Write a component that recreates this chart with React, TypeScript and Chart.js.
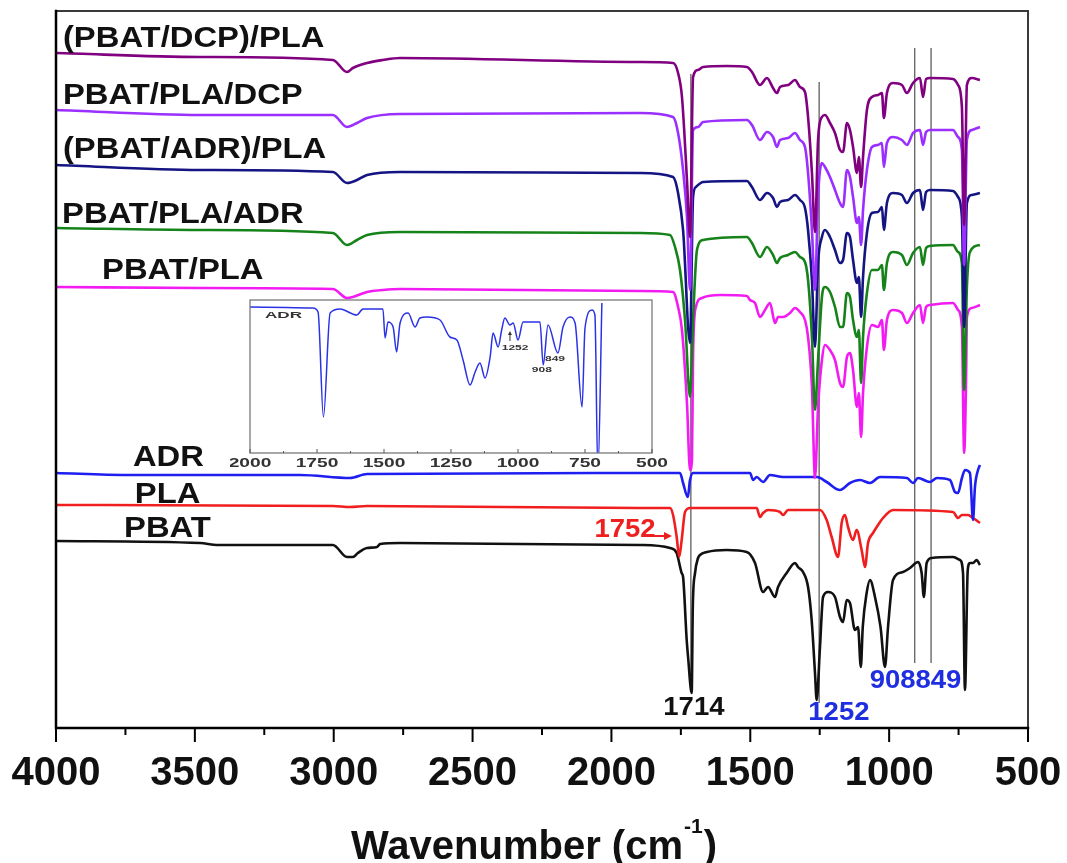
import React, { useEffect, useRef } from "react";
import { Chart, registerables } from "chart.js";

Chart.register(...registerables);

type P = [number, number];

// ---------- Data (wavenumber cm-1, stacked transmittance in arbitrary units) ----------
const PBAT: P[] = [[4000,187],[3481,185],[3420,183],[3003,183],[2952,171],[2931,171],[2913,175],[2880,180],[2844,181],[2833,184],[2761,185],[1897,183],[1789,180],[1765,175],[1760,170],[1747,155],[1742,151],[1729,88],[1724,71],[1711,35],[1707,121],[1699,155],[1688,170],[1681,173],[1656,176],[1585,178],[1513,176],[1483,165],[1454,136],[1436,141],[1411,131],[1400,141],[1369,155],[1339,165],[1328,161],[1310,156],[1292,141],[1279,108],[1267,55],[1261,28],[1249,81],[1238,131],[1220,136],[1195,131],[1177,111],[1166,106],[1153,128],[1141,125],[1123,98],[1112,101],[1102,61],[1095,101],[1081,135],[1069,148],[1051,131],[1031,101],[1015,61],[1004,101],[986,148],[950,156],[925,160],[896,166],[883,155],[875,131],[865,165],[847,170],[770,171],[745,168],[734,155],[727,38],[717,158],[709,165],[698,165],[685,168],[673,163]];

const PLA: P[] = [[4000,223],[3003,222],[2941,221],[2880,222],[1897,220],[1789,220],[1778,213],[1765,191],[1756,171],[1747,188],[1735,216],[1717,220],[1477,220],[1465,211],[1454,215],[1436,218],[1393,216],[1382,213],[1364,218],[1249,218],[1225,208],[1207,191],[1184,171],[1171,205],[1159,213],[1148,201],[1130,188],[1117,198],[1099,178],[1087,161],[1076,185],[1058,195],[1040,203],[1022,210],[986,218],[770,216],[752,210],[738,213],[716,213],[698,210],[673,205]];

const ADR: P[] = [[4000,255],[3744,253],[3121,253],[2941,250],[2880,254],[1897,255],[1753,255],[1742,245],[1725,231],[1717,248],[1706,255],[1501,255],[1490,248],[1477,251],[1454,246],[1429,253],[1382,251],[1260,251],[1225,246],[1177,238],[1141,245],[1105,248],[1069,245],[1033,251],[936,250],[914,245],[896,250],[853,246],[828,250],[781,248],[763,236],[752,235],[738,250],[727,258],[709,255],[698,208],[691,241],[680,258],[673,263]];

const PBAT_PLA: P[] = [[4000,441],[3481,440],[3003,439],[2952,430],[2931,431],[2880,436],[2823,438],[2761,439],[1897,437],[1778,436],[1760,421],[1746,398],[1728,325],[1717,258],[1710,268],[1706,375],[1696,421],[1674,430],[1609,433],[1512,432],[1501,428],[1483,425],[1465,411],[1447,418],[1429,425],[1411,405],[1400,411],[1382,411],[1357,415],[1339,420],[1321,416],[1303,408],[1292,391],[1278,341],[1267,250],[1256,321],[1242,368],[1231,383],[1213,378],[1195,368],[1177,345],[1166,341],[1152,371],[1141,375],[1130,358],[1116,321],[1109,335],[1101,291],[1094,335],[1080,381],[1062,403],[1040,401],[1026,408],[1019,378],[1008,408],[986,418],[954,415],[936,405],[914,415],[889,423],[878,405],[867,421],[853,423],[770,425],[752,418],[738,401],[730,275],[723,348],[720,411],[702,420],[673,423]];

const PBAT_PLA_ADR: P[] = [[4000,500],[3481,498],[3003,495],[2952,483],[2916,488],[2880,493],[2761,496],[1897,495],[1789,493],[1771,481],[1753,458],[1735,408],[1717,331],[1706,408],[1692,478],[1670,488],[1512,491],[1494,485],[1465,471],[1440,481],[1418,473],[1404,465],[1393,470],[1364,473],[1339,476],[1321,471],[1303,466],[1292,448],[1278,391],[1267,318],[1256,368],[1242,431],[1231,441],[1213,436],[1195,421],[1177,401],[1166,401],[1152,435],[1141,431],[1130,408],[1116,391],[1109,398],[1101,345],[1094,391],[1080,435],[1062,458],[1040,458],[1026,463],[1019,438],[1008,465],[986,476],[954,473],[936,463],[914,475],[889,481],[878,463],[867,480],[853,482],[770,483],[752,476],[738,465],[730,338],[720,441],[709,476],[673,483]];

const PBAT_ADR_THEN_PLA: P[] = [[4000,563],[3481,558],[3003,556],[2952,545],[2916,548],[2880,553],[2761,556],[1897,555],[1778,551],[1760,535],[1742,498],[1717,385],[1706,531],[1696,541],[1670,546],[1512,547],[1494,541],[1465,528],[1440,535],[1418,530],[1404,521],[1393,526],[1364,528],[1339,533],[1321,528],[1303,520],[1292,498],[1278,448],[1267,381],[1256,465],[1242,491],[1231,498],[1213,491],[1195,478],[1177,465],[1166,468],[1152,495],[1141,491],[1130,468],[1116,445],[1109,451],[1101,411],[1094,451],[1080,495],[1062,515],[1040,516],[1026,521],[1019,498],[1008,525],[986,535],[954,533],[936,525],[914,535],[889,538],[878,518],[867,536],[853,538],[770,537],[752,531],[738,511],[730,401],[720,525],[702,533],[673,535]];

const PBAT_PLA_DCP: P[] = [[4000,618],[3481,613],[3003,613],[2952,601],[2916,605],[2880,610],[2761,614],[1897,615],[1778,611],[1760,595],[1742,558],[1728,511],[1717,438],[1706,598],[1688,601],[1670,606],[1512,608],[1494,603],[1465,588],[1440,596],[1418,591],[1404,581],[1393,588],[1364,590],[1339,595],[1321,588],[1303,581],[1292,555],[1278,498],[1267,438],[1256,531],[1242,565],[1231,561],[1213,551],[1195,538],[1177,525],[1166,521],[1152,558],[1141,551],[1130,531],[1116,505],[1109,511],[1101,483],[1094,518],[1080,558],[1062,581],[1040,583],[1026,585],[1019,561],[1008,585],[986,591],[954,588],[936,583],[914,595],[889,598],[878,583],[867,596],[853,598],[770,598],[752,591],[738,578],[730,463],[720,588],[702,598],[673,601]];

const PBAT_DCP_THEN_PLA: P[] = [[4000,675],[3481,671],[3003,668],[2952,656],[2931,660],[2880,665],[2823,668],[2761,670],[1897,666],[1778,665],[1760,655],[1746,631],[1728,548],[1717,491],[1706,651],[1688,658],[1670,661],[1584,662],[1512,661],[1494,656],[1465,643],[1440,650],[1418,640],[1404,635],[1393,641],[1364,643],[1339,648],[1321,641],[1303,636],[1292,611],[1278,555],[1267,496],[1256,588],[1242,611],[1231,613],[1213,605],[1195,595],[1177,578],[1166,576],[1152,605],[1141,598],[1130,581],[1116,555],[1109,571],[1101,541],[1094,571],[1080,618],[1062,631],[1040,633],[1026,635],[1019,610],[1008,635],[986,645],[954,643],[936,635],[914,645],[889,650],[878,631],[867,649],[853,650],[770,649],[752,643],[738,621],[730,503],[720,643],[702,650],[673,648]];

// inset: neat ADR spectrum
const INSET_ADR: P[] = [[2000,146],[1765,145],[1746,141],[1726,36],[1701,140],[1664,144],[1602,138],[1578,144],[1504,144],[1496,115],[1485,131],[1466,126],[1453,101],[1440,130],[1410,140],[1384,126],[1366,135],[1340,136],[1291,133],[1254,116],[1228,113],[1205,93],[1179,68],[1160,81],[1142,90],[1123,75],[1104,96],[1093,120],[1074,106],[1061,123],[1049,135],[1030,128],[1018,130],[1000,113],[981,131],[918,131],[906,88],[888,128],[851,100],[832,126],[806,136],[787,130],[761,46],[750,125],[724,143],[713,138],[702,-20],[687,150]];

// reference lines (wavenumber, top value, bottom value)
const REF_WN = [1714, 1252, 908, 849];
const REF_TOP = [654, 646, 680, 680];
const REF_BOTTOM = [38, 25, 65, 65];

const X_MAJOR = [4000, 3500, 3000, 2500, 2000, 1500, 1000, 500];
const X_MINOR = [3750, 3250, 2750, 2250, 1750, 1250, 750];
const INSET_MAJOR = [2000, 1750, 1500, 1250, 1000, 750, 500];
const INSET_MINOR = [1875, 1625, 1375, 1125, 875, 625];

const SERIES_NAMES = ["(PBAT/DCP)/PLA", "PBAT/PLA/DCP", "(PBAT/ADR)/PLA", "PBAT/PLA/ADR", "PBAT/PLA", "ADR", "PLA", "PBAT"];
const SERIES_DATA = [PBAT_DCP_THEN_PLA, PBAT_PLA_DCP, PBAT_ADR_THEN_PLA, PBAT_PLA_ADR, PBAT_PLA, ADR, PLA, PBAT];
// label anchors in data units (wavenumber, value)
const LABEL_WN = [3975, 3975, 3975, 3978, 3834, 3723, 3716, 3755];
const LABEL_VAL = [681, 624, 570, 505, 449, 262, 225, 191];

const PEAK_TEXT = ["1714", "1252", "908849", "1752"];
const PEAK_WN = [1703, 1181, 905, 1951];
const PEAK_VAL = [13, 8, 40, 191];

// ---------- styles ----------
const COLORS = ["#800080", "#9a2fff", "#141482", "#16831a", "#f21cf2", "#1e1ef0", "#f01e1e", "#111111"];
const PEAK_COLORS = ["#111111", "#1f2fe0", "#1f2fe0", "#ee1f1f"];
const FONT = '"Liberation Sans", Arial, Helvetica, sans-serif';

function drawText(ctx: CanvasRenderingContext2D, text: string, x: number, y: number, size: number, color: string, sx = 1, align: "left" | "center" = "left") {
  ctx.save();
  ctx.font = `bold ${size}px ${FONT}`;
  ctx.fillStyle = color;
  ctx.textBaseline = "alphabetic";
  ctx.textAlign = "left";
  const w = ctx.measureText(text).width * sx;
  const left = align === "center" ? x - w / 2 : x;
  ctx.translate(left, y);
  ctx.scale(sx, 1);
  ctx.fillText(text, 0, 0);
  ctx.restore();
}

const mainDecor = {
  id: "mainDecor",
  afterDraw(chart: any) {
    const { ctx, chartArea: a, scales } = chart;
    const xs = scales.x;
    const ys = scales.y;
    ctx.save();
    // frame
    ctx.lineCap = "square";
    ctx.strokeStyle = "#3a3a3a";
    ctx.lineWidth = 2;
    ctx.beginPath();
    ctx.moveTo(a.left, a.top);
    ctx.lineTo(a.right, a.top);
    ctx.lineTo(a.right, a.bottom);
    ctx.stroke();
    ctx.strokeStyle = "#000";
    ctx.lineWidth = 2.5;
    ctx.beginPath();
    ctx.moveTo(a.left, a.top);
    ctx.lineTo(a.left, a.bottom);
    ctx.lineTo(a.right, a.bottom);
    ctx.stroke();
    // ticks
    ctx.lineWidth = 2;
    ctx.lineCap = "butt";
    X_MAJOR.forEach((v) => {
      const px = xs.getPixelForValue(v);
      ctx.beginPath();
      ctx.moveTo(px, a.bottom);
      ctx.lineTo(px, a.bottom + 14);
      ctx.stroke();
    });
    X_MINOR.forEach((v) => {
      const px = xs.getPixelForValue(v);
      ctx.beginPath();
      ctx.moveTo(px, a.bottom);
      ctx.lineTo(px, a.bottom + 7);
      ctx.stroke();
    });
    ctx.restore();
    X_MAJOR.forEach((v) => {
      drawText(ctx, String(v), xs.getPixelForValue(v), a.bottom + 57, 40, "#111", 1, "center");
    });
    // axis title with superscript
    const cx = (a.left + a.right) / 2 - 8;
    ctx.save();
    ctx.font = `bold 40px ${FONT}`;
    const mainTxt = "Wavenumber (cm";
    const w1 = ctx.measureText(mainTxt).width;
    const w3 = ctx.measureText(")").width;
    ctx.font = `bold 21px ${FONT}`;
    const w2 = ctx.measureText("-1").width;
    ctx.restore();
    const total = w1 + w2 + w3 + 2;
    const tx = cx - total / 2;
    const ty = a.bottom + 131;
    drawText(ctx, mainTxt, tx, ty, 40, "#111");
    drawText(ctx, "-1", tx + w1 + 1, ty - 26, 21, "#111");
    drawText(ctx, ")", tx + w1 + w2 + 2, ty, 40, "#111");
    // series labels
    SERIES_NAMES.forEach((name, i) => {
      drawText(ctx, name, xs.getPixelForValue(LABEL_WN[i]), ys.getPixelForValue(LABEL_VAL[i]), 29, "#111", 1.13);
    });
    // peak annotations
    PEAK_TEXT.forEach((t, i) => {
      drawText(ctx, t, xs.getPixelForValue(PEAK_WN[i]), ys.getPixelForValue(PEAK_VAL[i]), 25, PEAK_COLORS[i], 1.1, "center");
    });
    // arrow for 1752
    const ax0 = xs.getPixelForValue(1850);
    const ax1 = xs.getPixelForValue(1782);
    const ay = ys.getPixelForValue(192);
    ctx.save();
    ctx.strokeStyle = "#ee1f1f";
    ctx.fillStyle = "#ee1f1f";
    ctx.lineWidth = 2;
    ctx.beginPath();
    ctx.moveTo(ax0, ay);
    ctx.lineTo(ax1 - 6, ay);
    ctx.stroke();
    ctx.beginPath();
    ctx.moveTo(ax1, ay);
    ctx.lineTo(ax1 - 8, ay - 4);
    ctx.lineTo(ax1 - 8, ay + 4);
    ctx.closePath();
    ctx.fill();
    ctx.restore();
  },
};

const insetDecor = {
  id: "insetDecor",
  beforeDraw(chart: any) {
    const { ctx, chartArea: a } = chart;
    ctx.save();
    ctx.fillStyle = "#fff";
    ctx.fillRect(a.left, a.top, a.right - a.left, a.bottom - a.top);
    ctx.restore();
  },
  afterDraw(chart: any) {
    const { ctx, chartArea: a, scales } = chart;
    const xs = scales.x;
    const ys = scales.y;
    ctx.save();
    ctx.strokeStyle = "#7a7a7a";
    ctx.lineWidth = 1.3;
    ctx.strokeRect(a.left, a.top, a.right - a.left, a.bottom - a.top);
    ctx.strokeStyle = "#555";
    ctx.lineWidth = 1;
    INSET_MAJOR.forEach((v) => {
      const px = xs.getPixelForValue(v);
      ctx.beginPath();
      ctx.moveTo(px, a.bottom);
      ctx.lineTo(px, a.bottom - 4);
      ctx.stroke();
    });
    INSET_MINOR.forEach((v) => {
      const px = xs.getPixelForValue(v);
      ctx.beginPath();
      ctx.moveTo(px, a.bottom);
      ctx.lineTo(px, a.bottom - 2);
      ctx.stroke();
    });
    ctx.restore();
    INSET_MAJOR.forEach((v) => {
      drawText(ctx, String(v), xs.getPixelForValue(v), a.bottom + 14, 12, "#333", 1.6, "center");
    });
    drawText(ctx, "ADR", xs.getPixelForValue(1944), ys.getPixelForValue(135), 9.5, "#333", 1.8);
    drawText(ctx, "1252", xs.getPixelForValue(1011), ys.getPixelForValue(103), 7.5, "#333", 1.6, "center");
    drawText(ctx, "908", xs.getPixelForValue(911), ys.getPixelForValue(81), 7.5, "#333", 1.6, "center");
    drawText(ctx, "849", xs.getPixelForValue(862), ys.getPixelForValue(92), 7.5, "#333", 1.6, "center");
    const ax = xs.getPixelForValue(1030);
    ctx.save();
    ctx.strokeStyle = "#333";
    ctx.fillStyle = "#333";
    ctx.lineWidth = 1;
    ctx.beginPath();
    ctx.moveTo(ax, ys.getPixelForValue(112));
    ctx.lineTo(ax, ys.getPixelForValue(119));
    ctx.stroke();
    const tip = ys.getPixelForValue(122);
    ctx.beginPath();
    ctx.moveTo(ax, tip);
    ctx.lineTo(ax - 2, tip + 4);
    ctx.lineTo(ax + 2, tip + 4);
    ctx.closePath();
    ctx.fill();
    ctx.restore();
  },
};

const toXY = (arr: P[]) => arr.map(([x, y]) => ({ x, y }));

export default function App() {
  const mainRef = useRef<HTMLCanvasElement | null>(null);
  const insetRef = useRef<HTMLCanvasElement | null>(null);

  useEffect(() => {
    if (!mainRef.current || !insetRef.current) return;
    const datasets: any[] = SERIES_DATA.map((d, i) => ({
      label: SERIES_NAMES[i],
      data: toXY(d),
      borderColor: COLORS[i],
      backgroundColor: COLORS[i],
      borderWidth: 2.6,
      pointRadius: 0,
      cubicInterpolationMode: "monotone",
      borderJoinStyle: "round",
      fill: false,
    }));
    REF_WN.forEach((wn, i) => {
      datasets.push({
        label: `ref ${wn}`,
        data: [{ x: wn, y: REF_TOP[i] }, { x: wn, y: REF_BOTTOM[i] }],
        borderColor: "#6a6a6a",
        borderWidth: 1.4,
        pointRadius: 0,
        fill: false,
      });
    });
    const main = new Chart(mainRef.current, {
      type: "line",
      data: { datasets },
      options: {
        animation: false,
        responsive: false,
        maintainAspectRatio: false,
        devicePixelRatio: 1,
        layout: { padding: { left: 56, right: 39, top: 11, bottom: 135 } },
        plugins: { legend: { display: false }, tooltip: { enabled: false }, title: { display: false } },
        scales: {
          x: { type: "linear", reverse: true, min: 500, max: 4000, display: false },
          y: { type: "linear", min: 0, max: 717, display: false },
        },
      },
      plugins: [mainDecor],
    } as any);

    const inset = new Chart(insetRef.current, {
      type: "line",
      data: {
        datasets: [
          {
            label: "ADR",
            data: toXY(INSET_ADR),
            borderColor: "#2a32e6",
            borderWidth: 1.5,
            pointRadius: 0,
            cubicInterpolationMode: "monotone",
            fill: false,
          },
        ],
      },
      options: {
        animation: false,
        responsive: false,
        maintainAspectRatio: false,
        devicePixelRatio: 1,
        layout: { padding: { left: 20, right: 18, top: 10, bottom: 27 } },
        plugins: { legend: { display: false }, tooltip: { enabled: false } },
        scales: {
          x: { type: "linear", reverse: true, min: 500, max: 2000, display: false },
          y: { type: "linear", min: 0, max: 153, display: false },
        },
      },
      plugins: [insetDecor],
    } as any);

    return () => {
      main.destroy();
      inset.destroy();
    };
  }, []);

  return (
    <div style={{ position: "absolute", left: 0, top: 0, width: 1067, height: 863, background: "#fff" }}>
      <canvas ref={mainRef} width={1067} height={863} style={{ position: "absolute", left: 0, top: 0, width: 1067, height: 863 }} />
      <canvas ref={insetRef} width={440} height={190} style={{ position: "absolute", left: 230, top: 290, width: 440, height: 190 }} />
    </div>
  );
}
